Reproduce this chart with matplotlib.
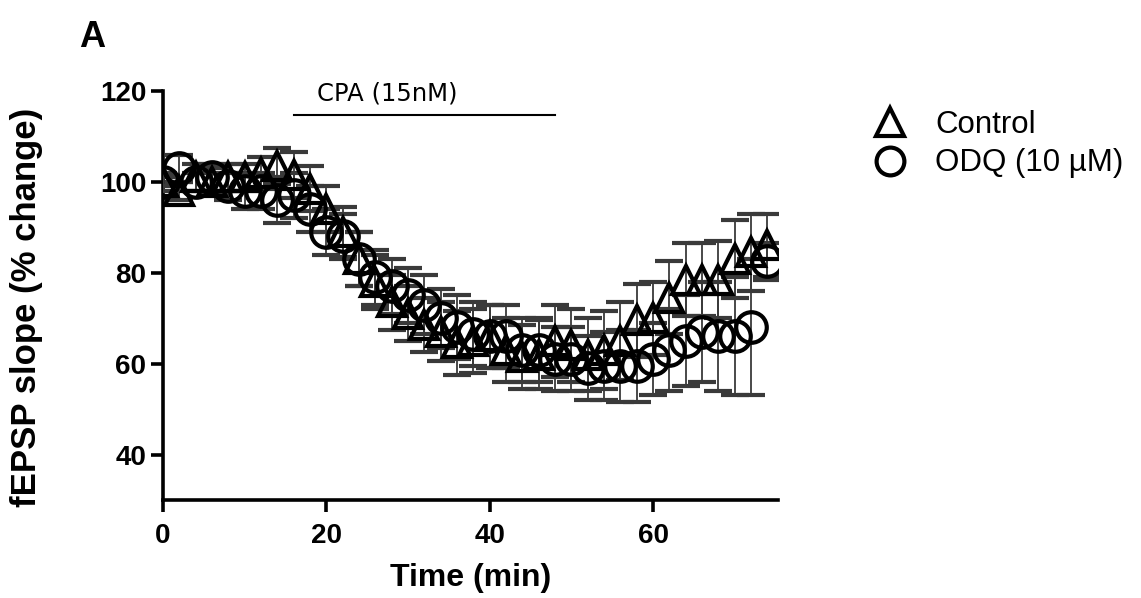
import matplotlib
matplotlib.use("Agg")
import matplotlib.pyplot as plt
from matplotlib.lines import Line2D
import numpy as np

# Time points (min), one every 2 min
time = np.arange(0, 76, 2)

# Control (triangles), mean and SEM
control = [100, 98, 101, 100, 101, 101, 102, 103.5, 101.5, 98.5,
           94, 89, 83, 78, 73.5, 71, 68.5, 67, 64.5, 65,
           66, 63, 61.5, 62, 65, 64, 62, 63, 65, 69.5,
           70, 74.5, 78.5, 78.5, 78.5, 83, 84.5, 86]
control_sem = [2, 2, 3, 3, 3, 3, 3.5, 4, 5, 5,
               5, 5.5, 6, 6, 6, 6, 6, 6.5, 7, 7,
               7, 7, 7, 7.5, 8, 8, 8, 8.5, 8.5, 8,
               8, 8, 8, 8, 8.5, 8.5, 8.5, 7]

# ODQ (circles), mean and SEM
odq = [100, 103, 100, 101, 99, 98, 98, 96, 97, 94,
       89, 88, 83, 79, 77, 75, 73, 70, 68, 66.5,
       66, 66, 63, 63, 61, 61, 59, 59.5, 59.5, 59.5,
       61, 63, 65, 67, 66, 66, 68, 82.5]
odq_sem = [1, 3, 2, 3, 3, 4, 4, 5, 5, 5,
           5, 5, 6, 6, 6, 6, 6.5, 6.5, 7, 7,
           7, 7, 7, 7, 7, 7, 7, 7.5, 8, 8,
           8, 9, 10, 11, 12, 13, 15, 4]

# drug application bar
cpa_start = 16
cpa_end = 48

plt.rcParams['font.family'] = ['Liberation Sans', 'DejaVu Sans']

fig = plt.figure(figsize=(11.41, 5.98), dpi=100)
ax = fig.add_axes([0.1429, 0.1639, 0.539, 0.684])

err_kw = dict(ecolor='#3a3a3a', elinewidth=1.3, capsize=10, capthick=1.4, linestyle='none')

ax.errorbar(time, control, yerr=control_sem, fmt='^', ms=20, mew=3.0,
            mfc='none', mec='black', zorder=3, **err_kw)
ax.errorbar(time, odq, yerr=odq_sem, fmt='o', ms=22, mew=3.0,
            mfc='none', mec='black', zorder=3, **err_kw)

ax.set_xlim(0, 75.3)
ax.set_ylim(30, 120)
ax.set_xticks([0, 20, 40, 60])
ax.set_yticks([40, 60, 80, 100, 120])

for s in ['top', 'right']:
    ax.spines[s].set_visible(False)
for s in ['left', 'bottom']:
    ax.spines[s].set_linewidth(2.6)
ax.tick_params(width=2.6, length=8.5, labelsize=20)
ax.tick_params(axis='x', pad=8)
for lab in ax.get_xticklabels() + ax.get_yticklabels():
    lab.set_fontweight('bold')

ax.set_xlabel('Time (min)', fontsize=23, fontweight='bold', labelpad=10)
ax.set_ylabel('fEPSP slope (% change)', fontsize=25, fontweight='bold')
ax.yaxis.set_label_coords(-0.196, 0.47)

# CPA bar and label
ax.plot([cpa_start, cpa_end], [114.6, 114.6], color='black', lw=1.5, clip_on=False)
ax.text(27.5, 119.5, 'CPA (15nM)', family='DejaVu Sans',
        fontsize=17.5, ha='center', va='center')

fig.text(0.081, 0.937, 'A', fontsize=26, fontweight='bold', ha='center', va='center')

handles = [Line2D([], [], marker='^', ls='none', ms=20, mew=3.0, mfc='none', mec='black'),
           Line2D([], [], marker='o', ls='none', ms=20, mew=3.0, mfc='none', mec='black')]
fig.legend(handles, ['Control', 'ODQ (10 µM)'], loc='center left',
           bbox_to_anchor=(0.7634, 0.759), frameon=False, fontsize=22.5,
           handlelength=1.2, handletextpad=0.85, labelspacing=0.28, borderpad=0,
           borderaxespad=0)

fig.savefig('out.png', dpi=100)
